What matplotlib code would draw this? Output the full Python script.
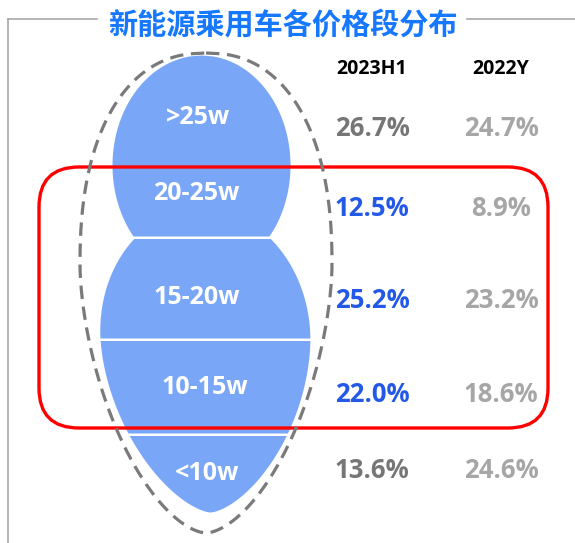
import numpy as np
import matplotlib.pyplot as plt
from matplotlib.patches import FancyBboxPatch

plt.rcParams['font.family'] = ['Open Sans', 'Noto Sans CJK SC', 'DejaVu Sans']

# data
title = '新能源乘用车各价格段分布'
columns = ['2023H1', '2022Y']
segments = ['>25w', '20-25w', '15-20w', '10-15w', '<10w']
share_2023h1 = [26.7, 12.5, 25.2, 22.0, 13.6]
share_2022y = [24.7, 8.9, 23.2, 18.6, 24.6]
highlighted = [False, True, True, True, False]

# layout (pixel coords, y down)
row_y = [128, 208, 301, 394, 470]
label_xy = [(198, 118), (196, 193), (197, 297), (205, 387), (207, 473)]
col_x = [372, 501]

fill_c = '#79A6F7'
blue = '#2359E6'
dark_gray = '#767676'
light_gray = '#A6A6A6'

fig = plt.figure(figsize=(5.75, 5.43), dpi=100)
ax = fig.add_axes([0, 0, 1, 1])
ax.set_xlim(0, 575)
ax.set_ylim(543, 0)
ax.axis('off')

# frame around the title
ax.plot([8, 8], [19, 543], color='#A0A0A0', lw=1.1)
ax.plot([8, 97], [19, 19], color='#A0A0A0', lw=1.1)
ax.plot([467, 575], [19, 19], color='#A0A0A0', lw=1.1)
ax.text(283, 24, title, ha='center', va='center', fontsize=21, fontweight='bold',
        color='#1677FF', family=['Noto Sans CJK SC', 'DejaVu Sans'])


# upper blob: truncated ellipse
def top_w(y):
    return 89 * np.sqrt(np.clip(1 - ((y - 165) / 110) ** 2, 0, None))


# lower blob: droplet
def low_w(y):
    up = 105 * np.sqrt(np.clip(1 - ((y - 335) / 127) ** 2, 0, None))
    t = np.clip((y - 335) / 177, 0, 1)
    down = 105 * (1 - t ** 1.8) ** 0.65
    return np.where(y <= 335, up, down)


def low_cx(y):
    return 202 + (y - 238) / (512 - 238) * 8


y = np.linspace(55, 236, 200)
ax.fill_betweenx(y, 201 - top_w(y), 201 + top_w(y), color=fill_c, lw=0)
for y0, y1 in [(238.5, 338), (340.5, 433), (435.5, 512)]:
    y = np.linspace(y0, y1, 300)
    ax.fill_betweenx(y, low_cx(y) - low_w(y), low_cx(y) + low_w(y), color=fill_c, lw=0)

# dashed egg outline
ys = np.linspace(53, 533, 600)
r = np.clip((265 - ys) / 212, 0, 1)
t = np.clip((ys - 265) / 268, 0, 1)
egg = np.where(ys <= 265, 126 * (1 - r ** 2.3) ** (1 / 2.3), 126 * (1 - t ** 1.7) ** 0.6)
ex = np.concatenate([206 + egg, (206 - egg)[::-1]])
ey = np.concatenate([ys, ys[::-1]])
ax.plot(ex, ey, color='#7A7A7A', lw=2.3, linestyle=(0, (4.2, 2.4)))

# red highlight box
box = FancyBboxPatch((39, 167), 509, 261, boxstyle='round,pad=0,rounding_size=40',
                     fill=False, edgecolor='#FF0000', lw=2.4)
ax.add_patch(box)

for (lx, ly), seg in zip(label_xy, segments):
    ax.text(lx, ly, seg, ha='center', va='center', fontsize=18, fontweight='bold', color='white')

for cx, col in zip(col_x, columns):
    ax.text(cx, 69, col, ha='center', va='center', fontsize=14, fontweight='bold', color='black')

for yy, a, b, hl in zip(row_y, share_2023h1, share_2022y, highlighted):
    ax.text(col_x[0], yy, f'{a:.1f}%', ha='center', va='center', fontsize=18.5,
            fontweight='bold', color=blue if hl else dark_gray)
    ax.text(col_x[1], yy, f'{b:.1f}%', ha='center', va='center', fontsize=18.5,
            fontweight='bold', color=light_gray)

fig.savefig('out.png', dpi=100)
